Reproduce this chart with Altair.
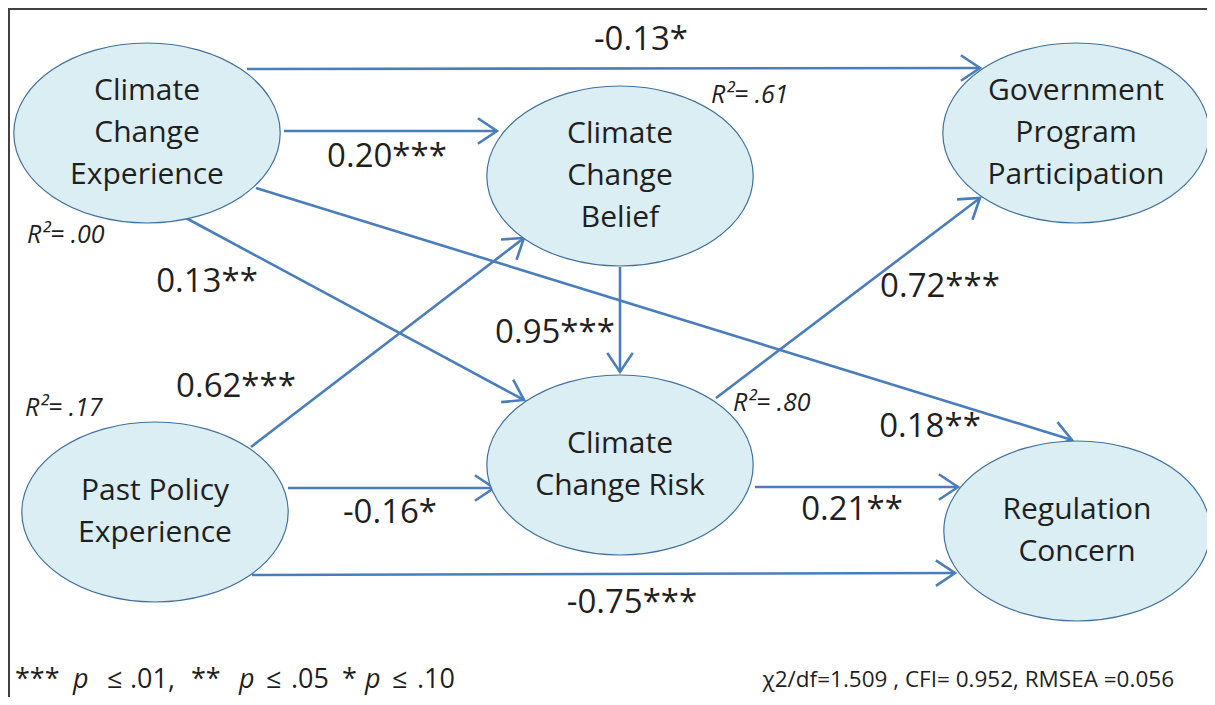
import math
import altair as alt
import pandas as pd

# ---------------- data ----------------
node_names = ["Climate\nChange\nExperience", "Climate\nChange\nBelief",
              "Government\nProgram\nParticipation", "Past Policy\nExperience",
              "Climate\nChange Risk", "Regulation\nConcern"]
node_x = [147, 620, 1076, 155, 620, 1077]
node_y = [133, 176, 133, 512, 465, 531]

path_from_x = [247, 284, 256, 186, 251, 288, 252, 620, 716, 755]
path_from_y = [69, 131, 188, 218, 447, 488, 575, 267, 398, 487]
path_to_x = [980, 497, 1072, 524, 524, 494, 955, 620, 980, 958]
path_to_y = [68, 131, 440, 400, 238, 488, 573, 372, 198, 487]
path_labels = ["-0.13*", "0.20***", "0.18**", "0.13**", "0.62***",
               "-0.16*", "-0.75***", "0.95***", "0.72***", "0.21**"]
label_x = [641, 387, 930, 207, 236, 390, 632, 555, 940, 852]
label_y = [40, 157, 427, 282, 387, 513, 603, 333, 287, 510]

r2_labels = ["R\u00b2= .00", "R\u00b2= .61", "R\u00b2= .17", "R\u00b2= .80"]
r2_x = [27, 711, 25, 733]
r2_y = [235, 95, 408, 403]

# significance note, written piece by piece (the p's are italic)
note_pieces = ["***", "p", "\u2264", ".01,", "**", "p", "\u2264", ".05",
               "*", "p", "\u2264", ".10"]
note_italic = [False, True, False, False, False, True, False, False,
               False, True, False, False]
note_x = [15, 73, 107, 130, 191, 239, 266, 291, 342, 365, 392, 417]
note_y = 680

fit_text = "\u03c72/df=1.509 , CFI= 0.952, RMSEA =0.056"
fit_x = 1174
fit_y = 680

# ---------------- styles ----------------
FONT = "Open Sans"
ARROW = "#4A7EBB"
FILL = "#DBEEF4"
EDGE = "#41719C"
TXT = "#1F1F1F"
W, H = 1199, 689
LINE_H = 42

ELLIPSE = "M -1.48,0 A 1.48,1 0 1,1 1.48,0 A 1.48,1 0 1,1 -1.48,0 Z"
CHEVRON = "M -1.5,-1 L 0,0 L -1.5,1"

xs = alt.Scale(domain=[8, 8 + W], range=[0, W])
ys = alt.Scale(domain=[8, 8 + H], range=[0, H])

nodes = pd.DataFrame({"name": node_names, "x": node_x, "y": node_y})

# one row per text line of each node, centred vertically on the node
line_rows = []
for name, cx, cy in zip(node_names, node_x, node_y):
    parts = name.split("\n")
    n = len(parts)
    for i, p in enumerate(parts):
        line_rows.append({"t": p, "x": cx, "y": cy + (i - (n - 1) / 2) * LINE_H})
node_lines = pd.DataFrame(line_rows)

paths = pd.DataFrame({"x": path_from_x, "y": path_from_y,
                      "x2": path_to_x, "y2": path_to_y,
                      "label": path_labels, "lx": label_x, "ly": label_y})
paths["angle"] = [
    (math.degrees(math.atan2(ty - fy, tx - fx)) + 360) % 360
    for fx, fy, tx, ty in zip(path_from_x, path_from_y, path_to_x, path_to_y)
]
r2 = pd.DataFrame({"t": r2_labels, "x": r2_x, "y": r2_y})
note = pd.DataFrame({"t": note_pieces, "x": note_x, "y": note_y,
                     "it": note_italic})
fit = pd.DataFrame({"t": [fit_text], "x": [fit_x], "y": [fit_y]})

X = lambda f: alt.X(f, type="quantitative", scale=xs, axis=None)
Y = lambda f: alt.Y(f, type="quantitative", scale=ys, axis=None)

shafts = alt.Chart(paths).mark_rule(color=ARROW, strokeWidth=2.6).encode(
    x=X("x"), y=Y("y"), x2="x2:Q", y2="y2:Q")

heads = alt.Chart(paths).mark_point(
    shape=CHEVRON, size=650, filled=False, stroke=ARROW, strokeWidth=2.6,
    opacity=1, strokeJoin="miter").encode(
    x=X("x2"), y=Y("y2"), angle=alt.Angle("angle:Q", scale=None))

ellipses = alt.Chart(nodes).mark_point(
    shape=ELLIPSE, size=32400, filled=True, fill=FILL, stroke=EDGE,
    strokeWidth=1.2, opacity=1, fillOpacity=1, strokeOpacity=1).encode(
    x=X("x"), y=Y("y"))

node_text = alt.Chart(node_lines).mark_text(
    font=FONT, fontSize=30, color=TXT, align="center", baseline="middle").encode(
    x=X("x"), y=Y("y"), text="t:N")

path_text = alt.Chart(paths).mark_text(
    font=FONT, fontSize=33, color=TXT, align="center", baseline="middle").encode(
    x=X("lx"), y=Y("ly"), text="label:N")

r2_text = alt.Chart(r2).mark_text(
    font=FONT, fontSize=25, fontStyle="italic", color=TXT, align="left",
    baseline="middle").encode(x=X("x"), y=Y("y"), text="t:N")

note_plain = alt.Chart(note[~note["it"]]).mark_text(
    font=FONT, fontSize=27, color=TXT, align="left", baseline="middle").encode(
    x=X("x"), y=Y("y"), text="t:N")
note_ital = alt.Chart(note[note["it"]]).mark_text(
    font=FONT, fontSize=27, fontStyle="italic", color=TXT, align="left",
    baseline="middle").encode(x=X("x"), y=Y("y"), text="t:N")

fit_txt = alt.Chart(fit).mark_text(
    font=FONT, fontSize=22.5, color=TXT, align="right", baseline="middle").encode(
    x=X("x"), y=Y("y"), text="t:N")

frame_top = alt.Chart(nodes).mark_rule(color="#404040", strokeWidth=2).encode(
    x=alt.value(0), x2=alt.value(W), y=alt.value(1))
frame_left = alt.Chart(nodes).mark_rule(color="#404040", strokeWidth=2).encode(
    x=alt.value(1), y=alt.value(0), y2=alt.value(H))

chart = alt.layer(
    frame_top, frame_left, shafts, heads, ellipses, node_text, path_text,
    r2_text, note_plain, note_ital, fit_txt
).properties(width=W, height=H, padding=0, autosize="none",
             background="white").configure_view(stroke=None)

chart.save("out.html", embed_options={"renderer": "svg", "actions": False})
